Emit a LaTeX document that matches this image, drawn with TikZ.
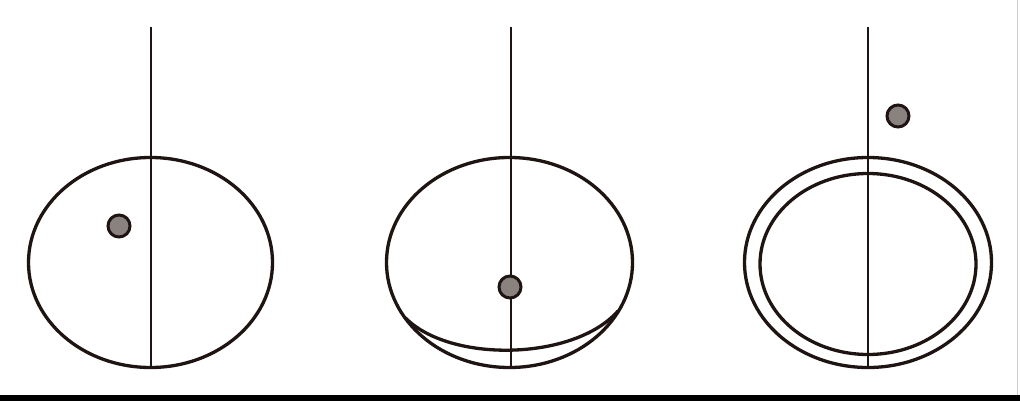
\documentclass[tikz,border=0pt]{standalone}
\definecolor{ink}{HTML}{1E1412}
\definecolor{dotfill}{HTML}{8A827E}
\tikzset{
  outline/.style={draw=ink, line width=3.3pt},
  rod/.style={draw=ink, line width=2.8pt},
  ball/.style={draw=ink, line width=3pt, fill=dotfill},
}
\begin{document}
\begin{tikzpicture}[x=1pt,y=-1pt]
\useasboundingbox (0,0) rectangle (1020,401);
\fill[white] (0,0) rectangle (1020,401);
\draw[gray!40, line width=1pt] (1017,0) -- (1017,395);
\fill[black] (0,395) rectangle (1020,401);
% figure 1
\draw[outline] (150.5,262.5) ellipse [x radius=122, y radius=105];
\draw[rod] (151,27) -- (151,368);
\draw[ball] (119,226) circle [radius=11];
% figure 2
\draw[outline] (509.5,262.5) ellipse [x radius=123, y radius=105];
\draw[outline, line cap=round] (405.5,318) .. controls (450,363) and (574,361) .. (618,311);
\draw[rod] (511,27) -- (511,368);
\draw[ball] (510,287) circle [radius=11];
% figure 3
\draw[outline] (868,262.5) ellipse [x radius=123.5, y radius=105];
\draw[outline] (868,264) ellipse [x radius=108, y radius=90.5];
\draw[rod] (868,27) -- (868,368);
\draw[ball] (898,116) circle [radius=11];
\end{tikzpicture}
\end{document}
